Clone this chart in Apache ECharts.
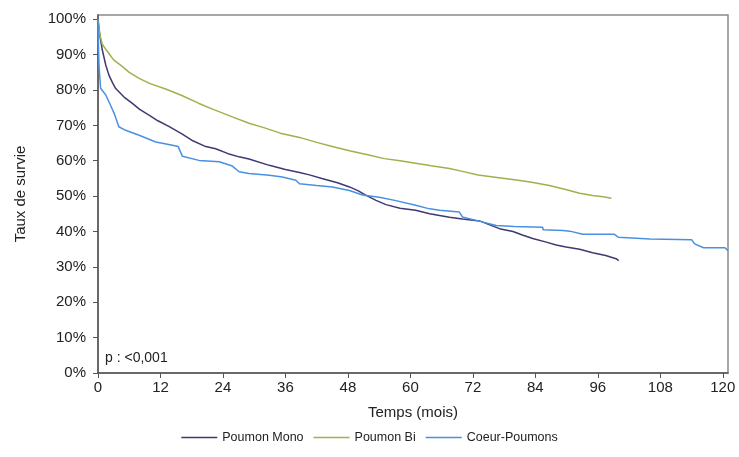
<!DOCTYPE html>
<html>
<head>
	<meta charset="utf-8">
	<title>Taux de survie</title>
	<script src="https://cdn.jsdelivr.net/npm/echarts@6/dist/echarts.min.js"></script>
	<style>
		html, body { margin: 0; padding: 0; background: #fff; }
		#chart { width: 739px; height: 457px; }
	</style>
</head>
<body>
	<div id="chart"></div>
<script>
	// ticks
	var xTicks = [0, 12, 24, 36, 48, 60, 72, 84, 96, 108, 120];
	var yTicks = [0, 10, 20, 30, 40, 50, 60, 70, 80, 90, 100];

	// courbes : [mois, %]
	var poumonMono = [[0,100],[0.4,95],[0.83,91.3],[1.5,87],[2.1,84.2],[2.8,82],[3.4,80.4],[5,78],[6.6,76.2],[8,74.5],[9.8,72.9],
		[11.5,71.3],[13.6,69.7],[16.2,67.5],[18,65.8],[20.7,64],[22.6,63.4],[25,62],[27.1,61.1],[29,60.5],[32.9,58.7],
		[36,57.5],[38.7,56.7],[40.6,56],[43,55],[46,53.8],[48.3,52.6],[50,51.5],[51.5,50.2],[53.4,48.8],[55.3,47.6],
		[58,46.6],[61,46],[63.7,45],[65.6,44.5],[67.5,44],[70,43.5],[73.3,43],[75,42],[77.1,40.8],[79.7,40],
		[81.5,39],[83.5,38],[86.1,37],[88,36.2],[89.9,35.6],[92.5,35],[95,34],[97.5,33.2],[99.5,32.3],[100,31.8]];
	var poumonBi = [[0,100],[0.3,96],[0.8,93],[1.5,91.5],[2.1,90.3],[3,88.5],[4.7,86.6],[6,85],[7.9,83.3],[10,81.8],
		[13,80.3],[16,78.5],[19.4,76.2],[22,74.6],[25.8,72.4],[29,70.6],[32,69.3],[35,67.8],[38.7,66.6],[42,65.2],
		[45,64],[48.3,62.8],[52,61.6],[55,60.6],[58,60],[61,59.3],[64,58.6],[67.5,57.8],[70,57],[73,56],
		[77,55.2],[80,54.6],[83,54],[86.7,53],[90,51.8],[92.5,50.8],[95,50.2],[97,49.8],[98.6,49.4]];
	var coeurPoumons = [[0,100],[0.1,92],[0.2,86.6],[0.5,80.5],[1.5,78.6],[2.4,75.7],[3.1,73.4],[4,69.6],[5.3,68.6],[7.9,67.2],
		[11.1,65.3],[14.3,64.4],[15.4,64],[16.2,61.3],[19.4,60.1],[23.3,59.7],[25.8,58.5],[27.1,56.9],[29,56.4],[32.9,55.9],
		[35.4,55.4],[38,54.5],[38.7,53.5],[42,53],[45,52.6],[48.3,51.6],[50.8,50.3],[54,49.7],[57,48.8],[61,47.4],
		[63.7,46.4],[65.6,46],[69.4,45.5],[70,44.1],[73,43],[76.5,41.7],[80,41.4],[85.4,41.2],[85.5,40.5],[89.3,40.3],
		[90.6,40.1],[93.1,39.2],[99.2,39.2],[99.9,38.4],[106,37.9],[114,37.7],[114.6,36.5],[116.3,35.4],[120.4,35.4],[121,34.6]];

	var font = 'Liberation Sans, Arial, sans-serif';

	function drawChart() {
		var option = {
			animation: false,
			textStyle: { fontFamily: font },
			grid: {
				left: 98, top: 15, right: 11, bottom: 84,
				show: true, borderColor: '#8a8a8a', borderWidth: 1.5
			},
			legend: {
				bottom: 8,
				left: 'center',
				icon: 'rect',
				itemWidth: 36,
				itemHeight: 1.5,
				itemGap: 10,
				textStyle: { fontSize: 12.5, color: '#222', fontFamily: font },
				data: ['Poumon Mono', 'Poumon Bi', 'Coeur-Poumons']
			},
			xAxis: {
				type: 'value',
				min: 0,
				max: 121,
				name: 'Temps (mois)',
				nameLocation: 'middle',
				nameGap: 32,
				nameTextStyle: { fontSize: 15, color: '#222' },
				axisLine: { show: true, lineStyle: { color: '#555', width: 1.5 } },
				axisTick: { show: true, length: 5, lineStyle: { color: '#555' }, customValues: xTicks },
				axisLabel: { fontSize: 15, color: '#222', margin: 7, customValues: xTicks },
				splitLine: { show: false }
			},
			yAxis: {
				type: 'value',
				min: 0,
				max: 101.2,
				name: 'Taux de survie',
				nameLocation: 'middle',
				nameGap: 70,
				nameTextStyle: { fontSize: 15, color: '#222' },
				axisLine: { show: true, lineStyle: { color: '#555', width: 1.5 } },
				axisTick: { show: true, length: 5, lineStyle: { color: '#555' }, customValues: yTicks },
				axisLabel: {
					fontSize: 15, color: '#222', margin: 12, customValues: yTicks,
					formatter: function (v) { return v + '%'; }
				},
				splitLine: { show: false }
			},
			graphic: [{
				type: 'text',
				left: 105,
				top: 351,
				style: { text: 'p : <0,001', font: '14px ' + font, fill: '#222' }
			}],
			series: [{
				name: 'Poumon Mono',
				type: 'line',
				data: poumonMono,
				showSymbol: false,
				symbol: 'none',
				color: '#3d3a72',
				lineStyle: { width: 1.5 }
			}, {
				name: 'Poumon Bi',
				type: 'line',
				data: poumonBi,
				showSymbol: false,
				symbol: 'none',
				color: '#9db24c',
				lineStyle: { width: 1.5 }
			}, {
				name: 'Coeur-Poumons',
				type: 'line',
				data: coeurPoumons,
				showSymbol: false,
				symbol: 'none',
				color: '#4a90e2',
				lineStyle: { width: 1.5 }
			}]
		};
		var chart = echarts.init(document.getElementById('chart'));
		chart.setOption(option);
	}
	drawChart();
</script>
</body>
</html>
